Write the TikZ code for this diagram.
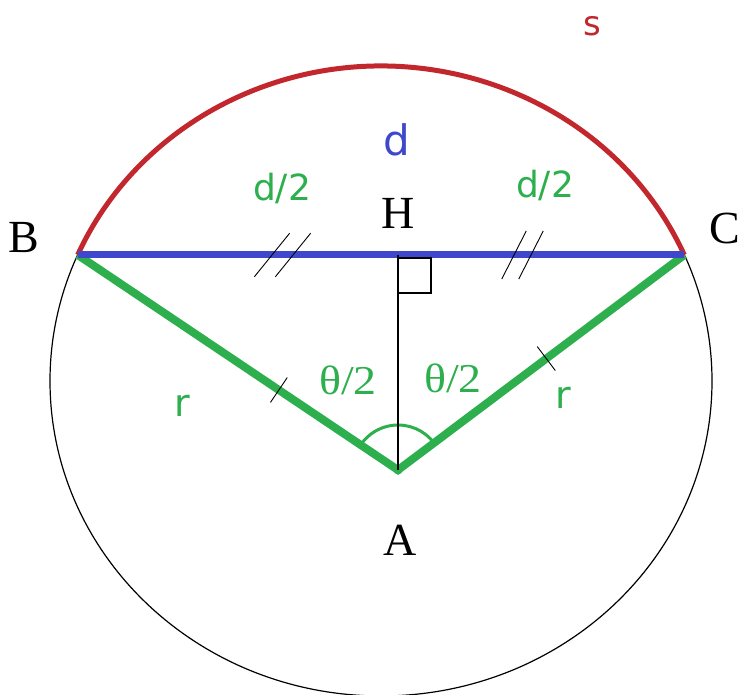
\documentclass[tikz,border=0pt]{standalone}
\usepackage{fontspec}
\setmainfont{Liberation Serif}
\newfontfamily\paintsans{DejaVu Sans}
\usetikzlibrary{calc}
\definecolor{arcred}{HTML}{C1272D}
\definecolor{chordblue}{HTML}{3F48CC}
\definecolor{radgreen}{HTML}{2DAF4E}

\begin{document}
\begin{tikzpicture}[
  x=1pt, y=1pt,
  ptlabel/.style={font=\fontsize{46}{46}\selectfont, inner sep=0pt},
  seglabel/.style={font=\paintsans\fontsize{36}{36}\selectfont, inner sep=0pt},
  anglabel/.style={font=\fontsize{41}{41}\selectfont, text=radgreen, xscale=1.12, inner sep=0pt},
  tickmark/.style={black, line width=0.9pt},
]

% Frame
\useasboundingbox (0,0) rectangle (742,694);

% Key points
\coordinate (O) at (381,313);
\coordinate (B) at ($(O)+(156.4:331 and 315)$);
\coordinate (C) at ($(O)+(23.6:331 and 315)$);
\coordinate (H) at (398,439);
\coordinate (A) at (398,224);

% Circle and arc s
\draw[black, line width=1.2pt] (O) ellipse[x radius=331pt, y radius=315pt];
\draw[arcred, line width=5pt] (C) arc[start angle=23.6, end angle=156.4, x radius=331pt, y radius=315pt];

% Radii
\draw[radgreen, line width=8pt] (B) -- (A) -- (C);
\fill[radgreen] (A) circle[radius=4.5pt];
\draw[radgreen, line width=3pt] ($(A)+(37:45)$) arc[start angle=37, end angle=146, radius=45pt];

% Chord d
\draw[chordblue, line width=7pt] (B) -- (C);

% Height AH and right angle
\draw[black, line width=1.2pt] (A) -- (H);
\draw[black, line width=1.2pt] ($(H)+(0,-3)$) -- ++(33,0) -- ++(0,-35) -- ++(-33,0);

% Equal marks on the half chords
\foreach \x in {272,293} {
  \draw[tickmark] (\x,439) ++(51:28) -- ++(231:56);
}
\foreach \x in {514,531} {
  \draw[tickmark] (\x,439) ++(63:27) -- ++(243:54);
}

% Equal marks on the radii
\draw[tickmark] ($(A)!0.372!(B)$) ++(56:15) -- ++(236:30);
\draw[tickmark] ($(A)!0.518!(C)$) ++(127:15) -- ++(307:30);

% Labels
\node[ptlabel] (lblB) at (24,456) {B};
\node[ptlabel] (lblC) at (725,466) {C};
\node[ptlabel] (lblH) at (398,481) {H};
\node[ptlabel] (lblA) at (400,154) {A};

\node[seglabel, text=arcred, font=\paintsans\fontsize{34}{34}\selectfont] (lblS) at (592,668) {s};
\node[seglabel, text=chordblue, font=\paintsans\fontsize{42}{42}\selectfont] (lblD) at (397,554) {d};
\node[seglabel, text=radgreen] (lblDl) at (282,506) {d/2};
\node[seglabel, text=radgreen] (lblDr) at (545,509) {d/2};
\node[seglabel, text=radgreen, font=\paintsans\fontsize{38}{38}\selectfont] (lblRl) at (182,288) {r};
\node[seglabel, text=radgreen, font=\paintsans\fontsize{38}{38}\selectfont] (lblRr) at (563,296) {r};

\node[anglabel] (lblTl) at (348,314) {θ/2};
\node[anglabel] (lblTr) at (453,316) {θ/2};

\end{tikzpicture}
\end{document}
